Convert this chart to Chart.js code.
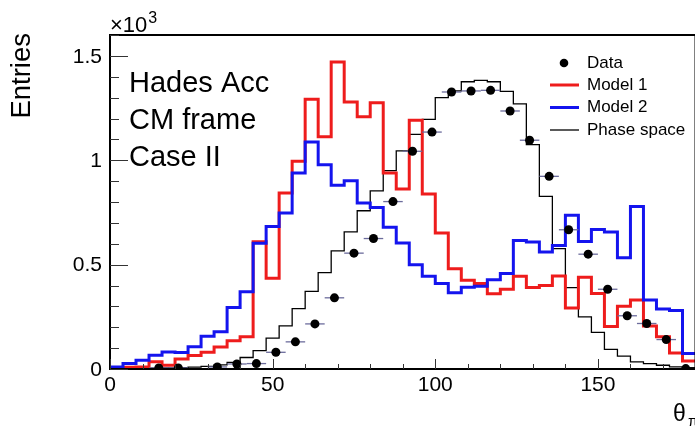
<!DOCTYPE html>
<html>
<head>
<meta charset="utf-8">
<script src="https://cdn.jsdelivr.net/npm/chart.js@4/dist/chart.umd.min.js"></script>
<style>
  html, body { margin: 0; padding: 0; background: #fff; }
  #wrap { width: 695px; height: 428px; overflow: hidden; position: relative; }
  canvas { display: block; }
</style>
</head>
<body>
<div id="wrap"><canvas id="thetaChart" width="700" height="428"></canvas></div>
<script>
// Binning: models use 4 deg bins, data uses 6 deg bins, range 0..180
const modelBinWidth = 4;
const dataBinWidth = 6;
const xMin = 0;
const xMax = 180;
const yMax = 1600;

const xTickLabels = [0, 50, 100, 150];
const yTickValues = [0, 500, 1000, 1500];
const yTickLabels = ['0', '0.5', '1', '1.5'];

const infoLines = ['Hades Acc', 'CM frame', 'Case II'];
const legendLabels = ['Data', 'Model 1', 'Model 2', 'Phase space'];

// Model 1 (red), 45 bins
const model1 = [3, 8, 10, 35, 18, 48, 65, 80, 105, 135, 155, 610, 435, 843, 995,
    1292, 1112, 1471, 1279, 1208, 1276, 939, 862, 1192, 838, 652, 480, 425, 410, 360,
    382, 444, 390, 400, 446, 292, 439, 362, 204, 301, 330, 206, 155, 77, 38];

// Model 2 (blue), 45 bins
const model2 = [10, 26, 42, 66, 82, 79, 106, 157, 178, 295, 370, 602, 683, 747, 939,
    1087, 979, 880, 902, 795, 774, 679, 603, 500, 444, 409, 365, 392, 396, 428,
    457, 615, 608, 560, 592, 736, 611, 668, 656, 533, 778, 330, 288, 280, 74];

// Phase space (black), 45 bins
const phaseSpace = [2, 2, 3, 4, 5, 7, 9, 13, 20, 32, 55, 88, 148, 207, 289,
    372, 462, 566, 657, 758, 853, 950, 1045, 1124, 1196, 1300, 1332, 1376, 1383, 1376,
    1330, 1270, 1075, 827, 577, 390, 250, 175, 94, 62, 34, 26, 18, 10, 7];

// Data, 30 bins (null = empty bin, not drawn)
const dataCounts = [null, null, 5, 5, null, 10, 24, 26, 80, 130, 216, 341, 555, 625, 802,
    1043, 1135, 1327, 1332, 1335, 1236, 1096, 923, 667, 550, 382, 255, 218, 141, 2];

const FONT = '"Liberation Sans", Arial, Helvetica, sans-serif';
const RED = '#ee1c1c';
const BLUE = '#1414ee';

function histPoints(values, width) {
    const pts = values.map((v, i) => ({ x: xMin + i * width, y: v }));
    pts.push({ x: xMin + values.length * width, y: values[values.length - 1] });
    return pts;
}

const dataPoints = dataCounts
    .map((v, i) => ({ x: xMin + (i + 0.5) * dataBinWidth, y: v }))
    .filter(p => p.y !== null);

// horizontal error bars (bin width) behind the data markers
const errorBars = {
    id: 'errorBars',
    beforeDatasetDraw(chart, args) {
        if (args.index !== 0) return;
        const { ctx, scales: { x, y } } = chart;
        ctx.save();
        ctx.strokeStyle = '#6c6c9c';
        ctx.lineWidth = 1.3;
        dataPoints.forEach(p => {
            const py = y.getPixelForValue(p.y);
            ctx.beginPath();
            ctx.moveTo(x.getPixelForValue(p.x - dataBinWidth / 2), py);
            ctx.lineTo(x.getPixelForValue(p.x + dataBinWidth / 2), py);
            ctx.stroke();
        });
        ctx.restore();
    }
};

// frame, inward ticks, y labels, texts and legend
const decorations = {
    id: 'decorations',
    afterDraw(chart) {
        const { ctx, chartArea: a, scales: { x, y } } = chart;
        ctx.save();

        ctx.strokeStyle = '#000';
        ctx.lineWidth = 2;
        ctx.strokeRect(a.left, a.top, a.right - a.left, a.bottom - a.top);

        ctx.strokeStyle = '#333';
        ctx.lineWidth = 1;
        for (let v = 0; v <= yMax; v += 100) {
            const py = Math.round(y.getPixelForValue(v)) + 0.5;
            const len = v % 500 === 0 ? 18 : 9;
            ctx.beginPath();
            ctx.moveTo(a.left, py);
            ctx.lineTo(a.left + len, py);
            ctx.stroke();
        }
        for (let v = xMin; v <= xMax; v += 10) {
            const px = Math.round(x.getPixelForValue(v)) + 0.5;
            const len = v % 50 === 0 ? 10 : 5;
            ctx.beginPath();
            ctx.moveTo(px, a.bottom);
            ctx.lineTo(px, a.bottom - len);
            ctx.stroke();
        }

        ctx.fillStyle = '#000';

        // y tick labels
        ctx.font = '21px ' + FONT;
        ctx.textAlign = 'right';
        ctx.textBaseline = 'middle';
        yTickValues.forEach((v, i) => {
            ctx.fillText(yTickLabels[i], a.left - 8, y.getPixelForValue(v) + 1);
        });

        ctx.textBaseline = 'alphabetic';
        ctx.textAlign = 'left';

        // exponent label
        ctx.font = '22px ' + FONT;
        ctx.fillText('\u00d710', a.left, 32);
        const w = ctx.measureText('\u00d710').width;
        ctx.font = '16px ' + FONT;
        ctx.fillText('3', a.left + w + 1, 23);

        // y axis title
        ctx.save();
        ctx.translate(30, 33);
        ctx.rotate(-Math.PI / 2);
        ctx.textAlign = 'right';
        ctx.font = '27.5px ' + FONT;
        ctx.fillText('Entries', 0, 0);
        ctx.restore();

        // x axis title
        ctx.font = '23px ' + FONT;
        ctx.fillText('\u03b8', 673, 421);
        ctx.font = '15px ' + FONT;
        ctx.fillText('\u03c0', 688, 426);

        // info text
        ctx.font = '29px ' + FONT;
        infoLines.forEach((t, i) => ctx.fillText(t, 129, 92 + i * 37));

        // legend
        ctx.font = '17px ' + FONT;
        ctx.textBaseline = 'middle';
        const rowY = [63, 85, 107.5, 130];
        const styles = [null, [RED, 3], [BLUE, 3], ['#000', 1.3]];
        legendLabels.forEach((t, i) => {
            const ry = rowY[i];
            if (i === 0) {
                ctx.beginPath();
                ctx.arc(564, ry, 4.3, 0, Math.PI * 2);
                ctx.fill();
            } else {
                ctx.strokeStyle = styles[i][0];
                ctx.lineWidth = styles[i][1];
                ctx.beginPath();
                ctx.moveTo(550, ry);
                ctx.lineTo(579, ry);
                ctx.stroke();
            }
            ctx.fillText(t, 587, ry);
        });

        ctx.restore();
    }
};

const ctx = document.getElementById('thetaChart').getContext('2d');

new Chart(ctx, {
    type: 'line',
    data: {
        datasets: [{
            label: 'Data',
            data: dataPoints,
            showLine: false,
            pointRadius: 4.5,
            pointBackgroundColor: '#000',
            pointBorderColor: '#000',
            pointBorderWidth: 0
        }, {
            label: 'Model 2',
            data: histPoints(model2, modelBinWidth),
            stepped: true,
            borderColor: BLUE,
            borderWidth: 3,
            pointRadius: 0,
            fill: false
        }, {
            label: 'Model 1',
            data: histPoints(model1, modelBinWidth),
            stepped: true,
            borderColor: RED,
            borderWidth: 3,
            pointRadius: 0,
            fill: false
        }, {
            label: 'Phase space',
            data: histPoints(phaseSpace, modelBinWidth),
            stepped: true,
            borderColor: '#000',
            borderWidth: 1.3,
            pointRadius: 0,
            fill: false
        }]
    },
    options: {
        responsive: false,
        animation: false,
        devicePixelRatio: 1,
        layout: {
            padding: { top: 35, right: 4, left: 0, bottom: 0 }
        },
        plugins: {
            legend: { display: false },
            tooltip: { enabled: false }
        },
        scales: {
            x: {
                type: 'linear',
                min: xMin,
                max: xMax,
                afterFit: s => { s.height = 59; },
                grid: { display: false, drawTicks: false },
                border: { display: false },
                ticks: {
                    stepSize: 10,
                    padding: 4,
                    color: '#000',
                    maxRotation: 0,
                    autoSkip: false,
                    font: { family: FONT, size: 21 },
                    callback: v => xTickLabels.includes(v) ? String(v) : ''
                }
            },
            y: {
                min: 0,
                max: yMax,
                afterFit: s => { s.width = 110; },
                grid: { display: false, drawTicks: false },
                border: { display: false },
                ticks: { display: false, stepSize: 100 }
            }
        }
    },
    plugins: [errorBars, decorations]
});
</script>
</body>
</html>
